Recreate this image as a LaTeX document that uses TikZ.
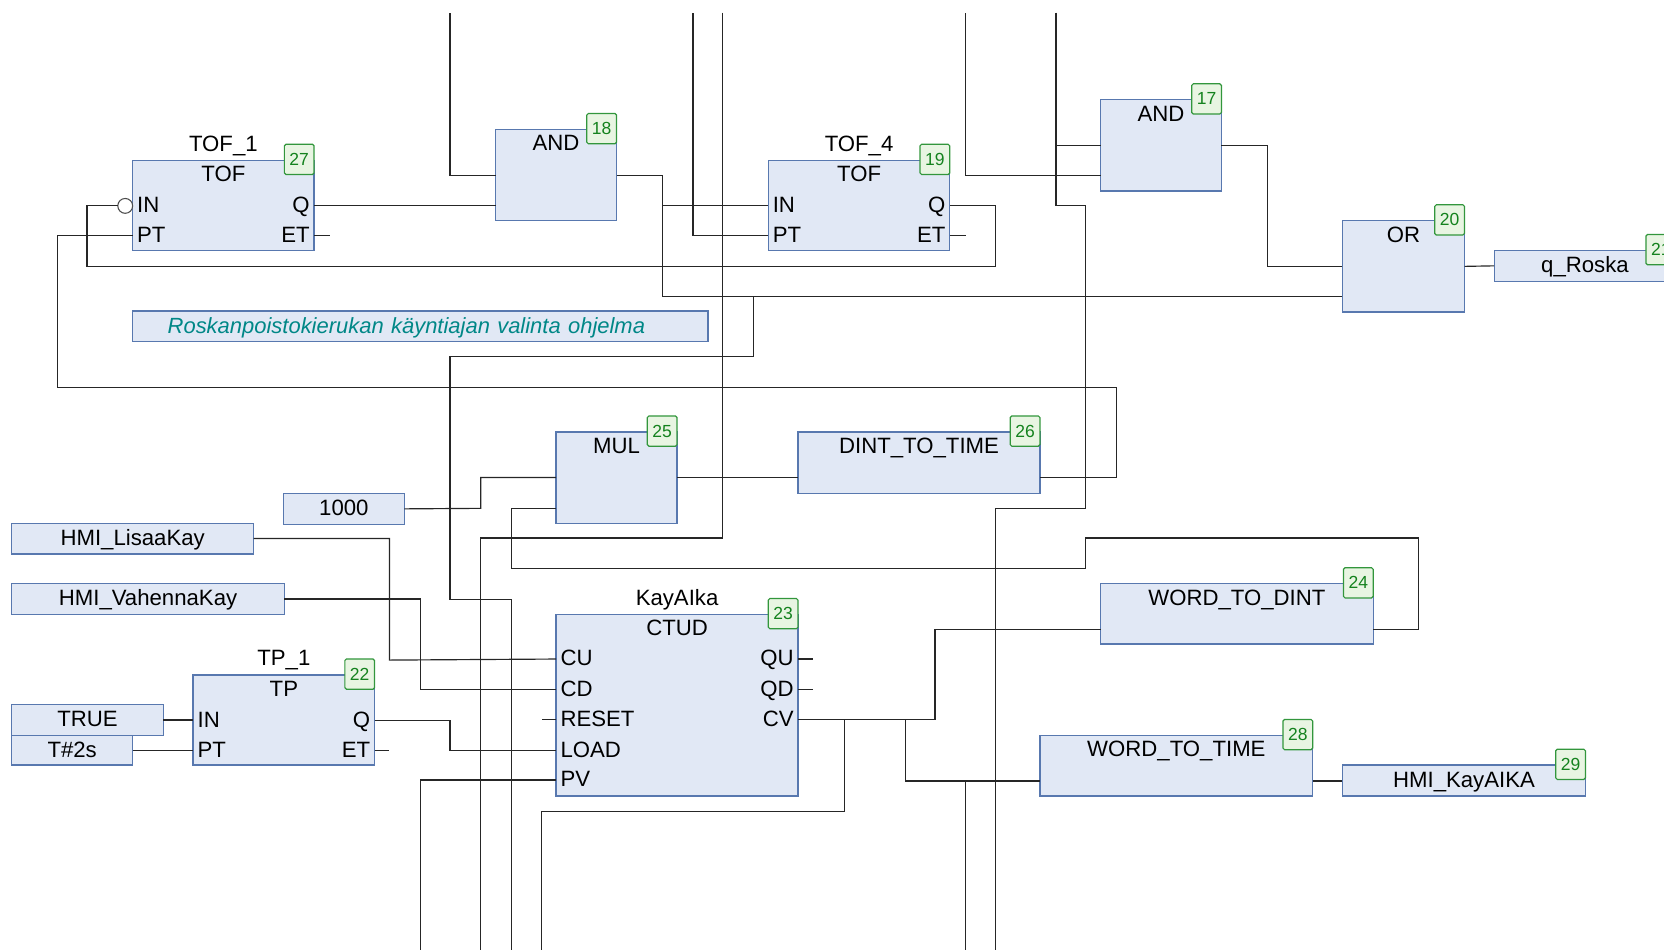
\documentclass[tikz,border=0pt]{standalone}
\usepackage{fontspec}
\setmainfont{Liberation Sans}
\definecolor{blockfill}{RGB}{225, 232, 245}
\definecolor{blockline}{RGB}{88, 120, 175}
\definecolor{tagfill}{RGB}{232, 245, 226}
\definecolor{tagline}{RGB}{50, 150, 60}
\definecolor{tagtext}{RGB}{20, 130, 30}
\definecolor{noteteal}{RGB}{0, 135, 135}
\usetikzlibrary{positioning}
\tikzset{
  blockbox/.style={draw=blockline, fill=blockfill, line width=1.3pt, anchor=north west, inner sep=0pt, outer sep=0pt, text height=13pt, text depth=0pt, font=\fontsize{20.9}{24}\selectfont},
  blocktitle/.style={inner sep=0pt, text height=13pt, text depth=0pt, font=\fontsize{20.9}{24}\selectfont},
  tagbox/.style={draw=tagline, fill=tagfill, line width=1.1pt, rounded corners=1.5pt, minimum width=28pt, minimum height=28.5pt, inner sep=0pt, anchor=east, xshift=0.5pt, yshift=0.8pt, text=tagtext, font=\fontsize{16.5}{18}\selectfont},
  pinl/.style={blocktitle, anchor=west, xshift=4pt},
  pinr/.style={blocktitle, anchor=east, xshift=-4pt},
  wire/.style={draw=black!85, line width=1.1pt, line cap=square},
  notcircle/.style={draw=black!70, fill=white, circle, line width=1pt, minimum size=14pt, inner sep=0pt, outer sep=0pt},
}

\begin{document}
\begin{tikzpicture}[x=1pt, y=-1pt]
  \useasboundingbox (0,0) rectangle (1568,895.2);
  \clip (0,0) rectangle (1568,895.2);

  \node[blockbox, minimum width=171pt, minimum height=85pt] (tof1) at (125,151) {};
  \node[blocktitle, below=7pt of tof1.north] (tof1type) {TOF};
  \node[blocktitle, above=8.5pt of tof1.north] (tof1name) {TOF\_1};
  \node[tagbox] (tag27) at (tof1.north east) {27};
  \node[pinl] (tof1in) at (tof1.west |- 0,194) {IN};
  \node[pinl] (tof1pt) at (tof1.west |- 0,222) {PT};
  \node[pinr] (tof1q) at (tof1.east |- 0,194) {Q};
  \node[pinr] (tof1et) at (tof1.east |- 0,222) {ET};
  \node[notcircle] (tof1not) at (118,194) {};

  \node[blockbox, minimum width=114pt, minimum height=86pt] (and18) at (467,122) {};
  \node[blocktitle, below=7pt of and18.north] (and18type) {AND};
  \node[tagbox] (tag18) at (and18.north east) {18};

  \node[blockbox, minimum width=171pt, minimum height=85pt] (tof4) at (724,151) {};
  \node[blocktitle, below=7pt of tof4.north] (tof4type) {TOF};
  \node[blocktitle, above=8.5pt of tof4.north] (tof4name) {TOF\_4};
  \node[tagbox] (tag19) at (tof4.north east) {19};
  \node[pinl] (tof4in) at (tof4.west |- 0,194) {IN};
  \node[pinl] (tof4pt) at (tof4.west |- 0,222) {PT};
  \node[pinr] (tof4q) at (tof4.east |- 0,194) {Q};
  \node[pinr] (tof4et) at (tof4.east |- 0,222) {ET};

  \node[blockbox, minimum width=114pt, minimum height=86pt] (and17) at (1037,94) {};
  \node[blocktitle, below=7pt of and17.north] (and17type) {AND};
  \node[tagbox] (tag17) at (and17.north east) {17};

  \node[blockbox, minimum width=115pt, minimum height=86pt] (or20) at (1265,208) {};
  \node[blocktitle, below=7pt of or20.north] (or20type) {OR};
  \node[tagbox] (tag20) at (or20.north east) {20};

  \node[blockbox, minimum width=171pt, minimum height=29pt] (roska) at (1408,236) {q\_Roska};
  \node[tagbox] (tag21) at (roska.north east) {21};

  \node[blockbox, minimum width=542pt, minimum height=29pt, text width=542pt, align=left, text=noteteal, font=\fontsize{20.7}{24}\selectfont\itshape] (note) at (125,293) {\hspace*{33pt}Roskanpoistokierukan käyntiajan valinta ohjelma};

  \node[blockbox, minimum width=114pt, minimum height=86pt] (mul) at (524,407) {};
  \node[blocktitle, below=7pt of mul.north] (multype) {MUL};
  \node[tagbox] (tag25) at (mul.north east) {25};

  \node[blockbox, minimum width=228pt, minimum height=58pt] (dinttime) at (752,407) {};
  \node[blocktitle, below=7pt of dinttime.north] (dinttimetype) {DINT\_TO\_TIME};
  \node[tagbox] (tag26) at (dinttime.north east) {26};

  \node[blockbox, minimum width=114pt, minimum height=29pt] (val1000) at (267,465) {1000};
  \node[blockbox, minimum width=228pt, minimum height=29pt] (lisaa) at (11,493) {HMI\_LisaaKay};
  \node[blockbox, minimum width=257pt, minimum height=29pt] (vahenna) at (11,550) {HMI\_VahennaKay};
  \node[blockbox, minimum width=143pt, minimum height=29pt] (valtrue) at (11,664) {TRUE};
  \node[blockbox, minimum width=114pt, minimum height=28pt] (valtime) at (11,693) {T\#2s};

  \node[blockbox, minimum width=171pt, minimum height=85pt] (tp1) at (182,636) {};
  \node[blocktitle, below=7pt of tp1.north] (tp1type) {TP};
  \node[blocktitle, above=8.5pt of tp1.north] (tp1name) {TP\_1};
  \node[tagbox] (tag22) at (tp1.north east) {22};
  \node[pinl] (tp1in) at (tp1.west |- 0,679) {IN};
  \node[pinl] (tp1pt) at (tp1.west |- 0,707) {PT};
  \node[pinr] (tp1q) at (tp1.east |- 0,679) {Q};
  \node[pinr] (tp1et) at (tp1.east |- 0,707) {ET};

  \node[blockbox, minimum width=228pt, minimum height=171pt] (ctud) at (524,579) {};
  \node[blocktitle, below=7pt of ctud.north] (ctudtype) {CTUD};
  \node[blocktitle, above=8.5pt of ctud.north] (ctudname) {KayAIka};
  \node[tagbox] (tag23) at (ctud.north east) {23};
  \node[pinl] (ctudcu) at (ctud.west |- 0,621) {CU};
  \node[pinl] (ctudcd) at (ctud.west |- 0,650) {CD};
  \node[pinl] (ctudreset) at (ctud.west |- 0,678) {RESET};
  \node[pinl] (ctudload) at (ctud.west |- 0,707) {LOAD};
  \node[pinl] (ctudpv) at (ctud.west |- 0,735) {PV};
  \node[pinr] (ctudqu) at (ctud.east |- 0,621) {QU};
  \node[pinr] (ctudqd) at (ctud.east |- 0,650) {QD};
  \node[pinr] (ctudcv) at (ctud.east |- 0,678) {CV};

  \node[blockbox, minimum width=257pt, minimum height=57pt] (worddint) at (1037,550) {};
  \node[blocktitle, below=7pt of worddint.north] (worddinttype) {WORD\_TO\_DINT};
  \node[tagbox] (tag24) at (worddint.north east) {24};

  \node[blockbox, minimum width=257pt, minimum height=57pt] (wordtime) at (980,693) {};
  \node[blocktitle, below=7pt of wordtime.north] (wordtimetype) {WORD\_TO\_TIME};
  \node[tagbox] (tag28) at (wordtime.north east) {28};

  \node[blockbox, minimum width=229pt, minimum height=29pt] (kayaika) at (1265,721) {HMI\_KayAIKA};
  \node[tagbox] (tag29) at (kayaika.north east) {29};

  \coordinate (topa) at (424,12);
  \coordinate (topb) at (653,12);
  \coordinate (topc) at (681,12);
  \coordinate (topd) at (910,12);
  \coordinate (tope) at (995,12);
  \coordinate (bota) at (396,895.2);
  \coordinate (botb) at (453,895.2);
  \coordinate (botc) at (482,895.2);
  \coordinate (botd) at (510,895.2);
  \coordinate (bote) at (910,895.2);
  \coordinate (botf) at (938,895.2);

  \draw[wire] (tof1not.west) -- (82,194) -- (82,251) -- (938,251) -- (938,194) -- (tof4.east |- tof4q);
  \draw[wire] (tof1.west |- tof1pt) -- (54,222) -- (54,365) -- (1052,365) -- (1052,450) -- (dinttime.east |- 0,450);
  \draw[wire] (tof1.east |- tof1q) -- (and18.west |- tof1q);
  \draw[wire] (tof1.east |- tof1et) -- ++(15,0);
  \draw[wire] (and18.east) -- (624,165) -- (624,279) -- (or20.west |- 0,279);
  \draw[wire] (624,194) -- (tof4.west |- tof4in);
  \draw[wire] (and18.west) -- (424,165) -- (topa);
  \draw[wire] (710,279) -- (710,336) -- (424,336) -- (424,565) -- (482,565) -- (botc);
  \draw[wire] (tof4.west |- tof4pt) -- (653,222) -- (topb);
  \draw[wire] (tof4.east |- tof4et) -- ++(15,0);
  \draw[wire] (topc) -- (681,507) -- (453,507) -- (botb);
  \draw[wire] (and17.west |- 0,165) -- (910,165) -- (topd);
  \draw[wire] (and17.west) -- (995,137);
  \draw[wire] (tope) -- (995,194) -- (1023,194) -- (1023,479) -- (938,479) -- (botf);
  \draw[wire] (and17.east) -- (1194,137) -- (1194,251) -- (or20.west);
  \draw[wire] (or20.east) -- (roska.west);
  \draw[wire] (val1000.east) -- (453,479) -- (453,450) -- (mul.west);
  \draw[wire] (mul.west |- 0,479) -- (482,479) -- (482,536) -- (1023,536) -- (1023,507) -- (1337,507) -- (1337,593) -- (worddint.east |- 0,593);
  \draw[wire] (mul.east) -- (dinttime.west |- mul.east);
  \draw[wire] (lisaa.east) -- (367,507.5) -- (367,622) -- (ctud.west |- ctudcu);
  \draw[wire] (vahenna.east) -- (396,564.5) -- (396,650) -- (ctud.west |- ctudcd);
  \draw[wire] (valtrue.east) -- (tp1.west |- valtrue.east);
  \draw[wire] (valtime.east) -- (tp1.west |- valtime.east);
  \draw[wire] (tp1.east |- tp1q) -- (424,679) -- (424,707) -- (ctud.west |- ctudload);
  \draw[wire] (tp1.east |- tp1et) -- ++(14,0);
  \draw[wire] (ctud.west |- ctudpv) -- (396,735) -- (bota);
  \draw[wire] (ctud.west |- ctudreset) -- ++(-13,0);
  \draw[wire] (ctud.east |- ctudqu) -- ++(14,0);
  \draw[wire] (ctud.east |- ctudqd) -- ++(14,0);
  \draw[wire] (ctud.east |- ctudcv) -- (881,678) -- (881,593) -- (worddint.west |- 0,593);
  \draw[wire] (796,678) -- (796,765) -- (510,765) -- (botd);
  \draw[wire] (853,678) -- (853,736) -- (wordtime.west |- 0,736);
  \draw[wire] (910,736) -- (bote);
  \draw[wire] (wordtime.east |- 0,736) -- (kayaika.west |- 0,736);
\end{tikzpicture}
\end{document}
